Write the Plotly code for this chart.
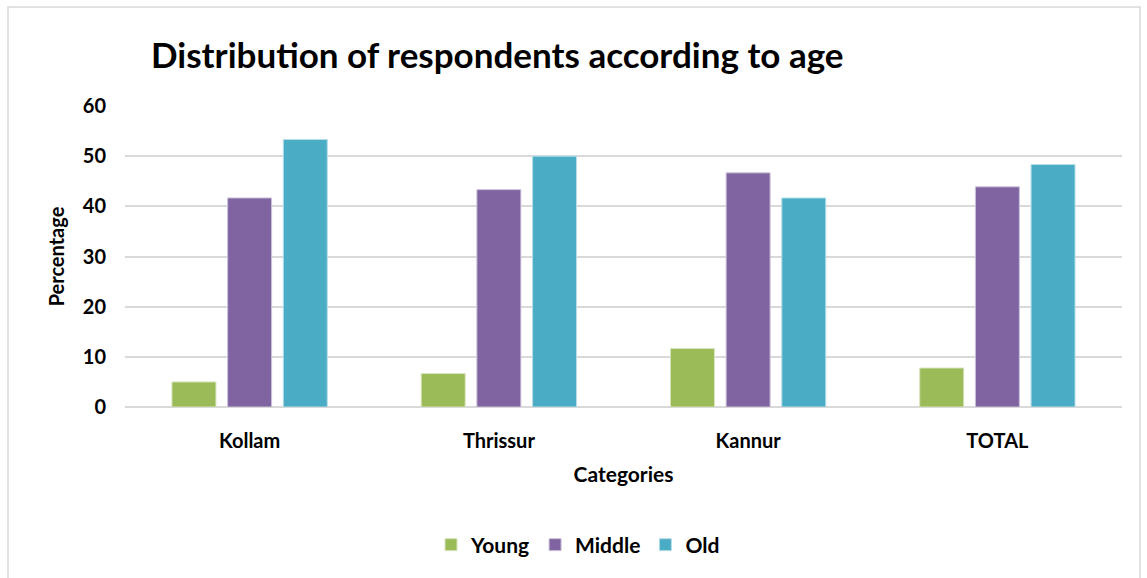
import plotly.graph_objects as go

categories = ["Kollam", "Thrissur", "Kannur", "TOTAL"]
young = [5.0, 6.67, 11.67, 7.78]
middle = [41.67, 43.33, 46.67, 43.89]
old = [53.33, 50.0, 41.67, 48.33]
y_ticks = [0, 10, 20, 30, 40, 50, 60]

FONT = "Lato"
fig = go.Figure()
for name, vals, col, edge in [("Young", young, "#9BBB59", "#D7E4BD"),
                              ("Middle", middle, "#8064A2", "#CCC1DA"),
                              ("Old", old, "#4BACC6", "#B7DEE8")]:
    fig.add_trace(go.Bar(x=categories, y=vals, name=name,
                         marker=dict(color=col, line=dict(color=edge, width=1))))

L, R, T, B = 125, 25, 106, 171
W, H = 1147, 578
pw, ph = W - L - R, H - T - B

fig.update_layout(
    width=W, height=H,
    margin=dict(l=L, r=R, t=T, b=B),
    paper_bgcolor="white", plot_bgcolor="white",
    barmode="group", bargap=0.33, bargroupgap=0.21,
    font=dict(family=FONT, color="#000000", weight="bold"),
    title=dict(text="Distribution of respondents according to age",
               x=151 / W, xref="container", xanchor="left",
               y=1 - 56 / H, yref="container", yanchor="middle",
               font=dict(size=35, family=FONT, color="#000000", weight="bold")),
    xaxis=dict(title=dict(text="Categories", font=dict(size=21, weight="bold"), standoff=16),
               tickfont=dict(size=20, weight="bold"), ticklabelstandoff=20, showline=False),
    yaxis=dict(title=dict(text="Percentage", font=dict(size=20, weight="bold"), standoff=12),
               range=[0, 60], tickvals=y_ticks, tickfont=dict(size=20, weight="bold"),
               ticklabelstandoff=18, showgrid=True, gridcolor="#D9D9D9", gridwidth=1.5,
               zeroline=True, zerolinecolor="#D9D9D9", zerolinewidth=1.5),
    legend=dict(orientation="h", x=(578 - L) / pw, xanchor="center",
                y=-(545 - (H - B)) / ph, yanchor="middle",
                font=dict(size=21, weight="bold"), itemwidth=30, traceorder="normal"),
    showlegend=True,
)

fig.add_shape(type="rect", xref="paper", yref="paper",
              x0=(8 - L) / pw, x1=(1140 - L) / pw,
              y0=-(590 - (H - B)) / ph, y1=(H - B - 7) / ph,
              line=dict(color="#D9D9D9", width=1.5), fillcolor="rgba(0,0,0,0)", layer="below")

fig.write_html("out.html")
